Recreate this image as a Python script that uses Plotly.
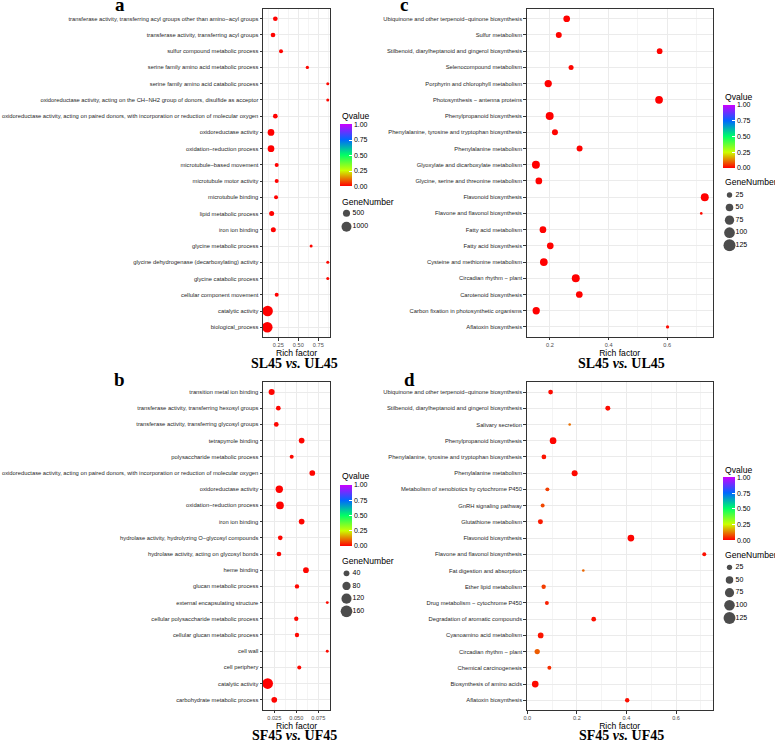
import plotly.graph_objects as go

W, H = 775, 741

# ---------------- data ----------------
# Panel a : SL45 vs. UL45 (GO terms)
a_terms = [
    "transferase activity, transferring acyl groups other than amino−acyl groups",
    "transferase activity, transferring acyl groups",
    "sulfur compound metabolic process",
    "serine family amino acid metabolic process",
    "serine family amino acid catabolic process",
    "oxidoreductase activity, acting on the CH−NH2 group of donors, disulfide as acceptor",
    "oxidoreductase activity, acting on paired donors, with incorporation or reduction of molecular oxygen",
    "oxidoreductase activity",
    "oxidation−reduction process",
    "microtubule−based movement",
    "microtubule motor activity",
    "microtubule binding",
    "lipid metabolic process",
    "iron ion binding",
    "glycine metabolic process",
    "glycine dehydrogenase (decarboxylating) activity",
    "glycine catabolic process",
    "cellular component movement",
    "catalytic activity",
    "biological_process",
]
a_rich = [0.213, 0.184, 0.284, 0.613, 0.868, 0.868, 0.213, 0.159, 0.159, 0.230,
          0.230, 0.222, 0.167, 0.188, 0.660, 0.868, 0.868, 0.230, 0.117, 0.113]
a_genes = [220, 220, 160, 110, 90, 90, 220, 450, 450, 160,
           160, 160, 250, 250, 90, 90, 90, 160, 1100, 1100]
a_qvalue = [0.002, 0.003, 0.004, 0.006, 0.008, 0.008, 0.002, 0.0, 0.0, 0.001,
            0.001, 0.001, 0.002, 0.002, 0.006, 0.008, 0.008, 0.001, 0.0, 0.0]

# Panel b : SF45 vs. UF45 (GO terms)
b_terms = [
    "transition metal ion binding",
    "transferase activity, transferring hexosyl groups",
    "transferase activity, transferring glycosyl groups",
    "tetrapyrrole binding",
    "polysaccharide metabolic process",
    "oxidoreductase activity, acting on paired donors, with incorporation or reduction of molecular oxygen",
    "oxidoreductase activity",
    "oxidation−reduction process",
    "iron ion binding",
    "hydrolase activity, hydrolyzing O−glycosyl compounds",
    "hydrolase activity, acting on glycosyl bonds",
    "heme binding",
    "glucan metabolic process",
    "external encapsulating structure",
    "cellular polysaccharide metabolic process",
    "cellular glucan metabolic process",
    "cell wall",
    "cell periphery",
    "catalytic activity",
    "carbohydrate metabolic process",
]
b_rich = [0.0220, 0.0296, 0.0273, 0.0561, 0.0448, 0.0682, 0.0307, 0.0315, 0.0561, 0.0318,
          0.0303, 0.0610, 0.0508, 0.0852, 0.0500, 0.0508, 0.0852, 0.0534, 0.0175, 0.0250]
b_genes = [42, 26, 26, 38, 19, 38, 63, 69, 38, 26,
           26, 38, 22, 10, 22, 22, 10, 19, 133, 38]
b_qvalue = [0.004, 0.006, 0.006, 0.005, 0.008, 0.005, 0.002, 0.002, 0.005, 0.006,
            0.006, 0.005, 0.007, 0.010, 0.007, 0.007, 0.010, 0.008, 0.0, 0.004]

# Panel c : SL45 vs. UL45 (KEGG pathways)
c_terms = [
    "Ubiquinone and other terpenoid−quinone biosynthesis",
    "Sulfur metabolism",
    "Stilbenoid, diarylheptanoid and gingerol biosynthesis",
    "Selenocompound metabolism",
    "Porphyrin and chlorophyll metabolism",
    "Photosynthesis − antenna proteins",
    "Phenylpropanoid biosynthesis",
    "Phenylalanine, tyrosine and tryptophan biosynthesis",
    "Phenylalanine metabolism",
    "Glyoxylate and dicarboxylate metabolism",
    "Glycine, serine and threonine metabolism",
    "Flavonoid biosynthesis",
    "Flavone and flavonol biosynthesis",
    "Fatty acid metabolism",
    "Fatty acid biosynthesis",
    "Cysteine and methionine metabolism",
    "Circadian rhythm − plant",
    "Carotenoid biosynthesis",
    "Carbon fixation in photosynthetic organisms",
    "Aflatoxin biosynthesis",
]
c_rich = [0.257, 0.230, 0.574, 0.272, 0.194, 0.572, 0.199, 0.217, 0.301, 0.152,
          0.162, 0.728, 0.716, 0.176, 0.201, 0.179, 0.288, 0.300, 0.153, 0.601]
c_genes = [39, 31, 28, 22, 46, 52, 55, 31, 31, 55,
           39, 55, 6, 39, 39, 52, 55, 39, 46, 9]
c_qvalue = [0.002, 0.004, 0.003, 0.006, 0.001, 0.0, 0.0, 0.004, 0.003, 0.0,
            0.002, 0.0, 0.010, 0.002, 0.002, 0.0, 0.0, 0.002, 0.001, 0.010]

# Panel d : SF45 vs. UF45 (KEGG pathways)
d_terms = [
    "Ubiquinone and other terpenoid−quinone biosynthesis",
    "Stilbenoid, diarylheptanoid and gingerol biosynthesis",
    "Salivary secretion",
    "Phenylpropanoid biosynthesis",
    "Phenylalanine, tyrosine and tryptophan biosynthesis",
    "Phenylalanine metabolism",
    "Metabolism of xenobiotics by cytochrome P450",
    "GnRH signaling pathway",
    "Glutathione metabolism",
    "Flavonoid biosynthesis",
    "Flavone and flavonol biosynthesis",
    "Fat digestion and absorption",
    "Ether lipid metabolism",
    "Drug metabolism − cytochrome P450",
    "Degradation of aromatic compounds",
    "Cyanoamino acid metabolism",
    "Circadian rhythm − plant",
    "Chemical carcinogenesis",
    "Biosynthesis of amino acids",
    "Aflatoxin biosynthesis",
]
d_rich = [0.094, 0.325, 0.171, 0.104, 0.067, 0.191, 0.081, 0.062, 0.053, 0.418,
          0.714, 0.226, 0.066, 0.079, 0.268, 0.054, 0.040, 0.089, 0.032, 0.403]
d_genes = [20, 22, 6, 40, 20, 32, 14, 14, 22, 40,
           14, 6, 17, 14, 20, 29, 25, 14, 40, 17]
d_qvalue = [0.010, 0.012, 0.110, 0.004, 0.020, 0.008, 0.060, 0.070, 0.025, 0.004,
            0.015, 0.100, 0.060, 0.030, 0.015, 0.020, 0.090, 0.045, 0.010, 0.015]

size_breaks_a = [500, 1000]
size_breaks_b = [40, 80, 120, 160]
size_breaks_c = [25, 50, 75, 100, 125]
size_breaks_d = [25, 50, 75, 100, 125]
q_ticks = [0.0, 0.25, 0.50, 0.75, 1.00]

# ---------------- styling / layout ----------------
RAINBOW = [[0.0, "#FF0000"], [0.25, "#CCFF00"], [0.5, "#00FF66"],
           [0.75, "#0066FF"], [1.0, "#CC00FF"]]
SANS = "Liberation Sans, Arial, sans-serif"
SERIF = "Liberation Serif, Times New Roman, serif"

panels = [
    dict(terms=a_terms, rich=a_rich, genes=a_genes, q=a_qvalue, breaks=size_breaks_a,
         box=(263, 330, 9, 337), xrange=[0.059, 0.896], dtick=0.25, fmt=".2f", minor=0.125,
         sizeref=20.0, cbar=(340, 124.5, 186.5), qtitle=(340, 116), gtitle=(340, 201.7),
         gbox=(340, 206.6, 233.4), letter=("a", 119.5, 4),
         comp="SL45", ref="UL45", comp_xy=(294, 363.3)),
    dict(terms=b_terms, rich=b_rich, genes=b_genes, q=b_qvalue, breaks=size_breaks_b,
         box=(263, 330, 382.3, 709.5), xrange=[0.0122, 0.0883], dtick=0.025, fmt=".3f", minor=0.0125,
         sizeref=2.34, cbar=(340, 485, 545.7), qtitle=(340, 476), gtitle=(340, 561),
         gbox=(340, 567, 617.6), letter=("b", 119.7, 380),
         comp="SF45", ref="UF45", comp_xy=(294.7, 735)),
    dict(terms=c_terms, rich=c_rich, genes=c_genes, q=c_qvalue, breaks=size_breaks_c,
         box=(526.7, 712.7, 9, 336.7), xrange=[0.1206, 0.755], dtick=0.2, fmt=".1f", minor=0.1,
         sizeref=1.737, cbar=(723, 105, 167.7), qtitle=(723, 96.5), gtitle=(723, 181.7),
         gbox=(723, 188.7, 251.6), letter=("c", 403.5, 4.5),
         comp="SL45", ref="UL45", comp_xy=(621.7, 363.3)),
    dict(terms=d_terms, rich=d_rich, genes=d_genes, q=d_qvalue, breaks=size_breaks_d,
         box=(526.7, 712.7, 382.3, 710), xrange=[-0.0024, 0.748], dtick=0.2, fmt=".1f", minor=0.1,
         sizeref=1.78, cbar=(723, 477.3, 540), qtitle=(723, 469.5), gtitle=(723, 555),
         gbox=(723, 561, 624.3), letter=("d", 409, 380),
         comp="SF45", ref="UF45", comp_xy=(621.5, 735)),
]

fig = go.Figure()
layout = dict(width=W, height=H, margin=dict(l=0, r=0, t=0, b=0),
              paper_bgcolor="white", plot_bgcolor="white", template="none",
              showlegend=False, font=dict(family=SANS, color="black"))
annotations = []


def fx(p):
    return p / W


def fy(p):
    return 1 - p / H


for i, p in enumerate(panels):
    k = i + 1
    sfx = "" if k == 1 else str(k)
    x0, x1, y0, y1 = p["box"]
    n = len(p["terms"])
    cax = "coloraxis" + sfx

    fig.add_trace(go.Scatter(
        x=p["rich"], y=p["terms"], mode="markers",
        xaxis="x" + sfx, yaxis="y" + sfx,
        marker=dict(size=p["genes"], sizemode="area", sizeref=p["sizeref"],
                    color=p["q"], coloraxis=cax, line=dict(width=0), opacity=1),
        hovertemplate="%{y}<br>Rich factor=%{x}<extra></extra>",
    ))

    layout["xaxis" + sfx] = dict(
        domain=[fx(x0), fx(x1)], anchor="y" + sfx, range=p["xrange"],
        tick0=0, dtick=p["dtick"], tickformat=p["fmt"],
        showgrid=True, gridcolor="#EBEBEB", gridwidth=0.7, zeroline=False,
        minor=dict(tick0=0, dtick=p["minor"], showgrid=True, gridcolor="#F4F4F4", gridwidth=0.5),
        showline=True, mirror=True, linecolor="#333333", linewidth=1,
        ticks="outside", ticklen=2.5, tickwidth=0.8, tickcolor="#333333",
        tickfont=dict(size=5.6, color="#4D4D4D", family=SANS),
        title=dict(text="Rich factor", font=dict(size=8.6, color="black", family=SANS), standoff=1),
    )
    layout["yaxis" + sfx] = dict(
        domain=[fy(y1), fy(y0)], anchor="x" + sfx, type="category",
        categoryorder="array", categoryarray=p["terms"], range=[n - 1 + 0.6, -0.6],
        showgrid=True, gridcolor="#EBEBEB", gridwidth=0.7, zeroline=False,
        showline=True, mirror=True, linecolor="#333333", linewidth=1,
        ticks="outside", ticklen=2.5, tickwidth=0.8, tickcolor="#333333",
        tickfont=dict(size=5.8, color="#262626", family=SANS),
    )

    cx, ctop, cbot = p["cbar"]
    layout[cax] = dict(
        cmin=0, cmax=1, colorscale=RAINBOW,
        colorbar=dict(
            x=fx(cx), xanchor="left", xpad=0, y=fy(ctop), yanchor="top", ypad=0,
            len=cbot - ctop, lenmode="pixels", thickness=12, thicknessmode="pixels",
            outlinewidth=0, tickvals=q_ticks, tickformat=".2f",
            ticks="inside", ticklen=2.5, tickcolor="white", tickwidth=0.8,
            tickfont=dict(size=7, color="black", family=SANS),
        ),
    )
    qx, qy = p["qtitle"]
    annotations.append(dict(text="Qvalue", x=fx(qx), y=fy(qy), xref="paper", yref="paper",
                            xanchor="left", yanchor="middle", showarrow=False,
                            font=dict(size=8.6, family=SANS, color="black")))

    # GeneNumber size legend drawn on its own small axes with the same size scale
    gx, gt, gb = p["gbox"]
    lk = 4 + k
    lx, ly = "x" + str(lk), "y" + str(lk)
    labels = [str(v) for v in p["breaks"]]
    fig.add_trace(go.Scatter(
        x=[6.5] * len(labels), y=labels, mode="markers", xaxis=lx, yaxis=ly,
        marker=dict(size=p["breaks"], sizemode="area", sizeref=p["sizeref"],
                    color="black", line=dict(width=0)),
        hoverinfo="skip",
    ))
    fig.add_trace(go.Scatter(
        x=[12.5] * len(labels), y=labels, mode="text", text=labels, xaxis=lx, yaxis=ly,
        textposition="middle right", textfont=dict(size=7, color="black", family=SANS),
        hoverinfo="skip",
    ))
    layout["xaxis" + str(lk)] = dict(domain=[fx(gx), fx(gx + 45)], anchor=ly, range=[0, 45],
                                     visible=False, fixedrange=True)
    layout["yaxis" + str(lk)] = dict(domain=[fy(gb), fy(gt)], anchor=lx, type="category",
                                     categoryorder="array", categoryarray=labels,
                                     range=[len(labels) - 0.5, -0.5], visible=False, fixedrange=True)
    tx, ty = p["gtitle"]
    annotations.append(dict(text="GeneNumber", x=fx(tx), y=fy(ty), xref="paper", yref="paper",
                            xanchor="left", yanchor="middle", showarrow=False,
                            font=dict(size=8.6, family=SANS, color="black")))

    # comparison caption and panel letter
    cx2, cy2 = p["comp_xy"]
    annotations.append(dict(text="<b>%s <i>vs.</i> %s</b>" % (p["comp"], p["ref"]),
                            x=fx(cx2), y=fy(cy2), xref="paper", yref="paper",
                            xanchor="center", yanchor="middle", showarrow=False,
                            font=dict(size=14, family=SERIF, color="black")))
    letter, lx_, ly_ = p["letter"]
    annotations.append(dict(text="<b>%s</b>" % letter, x=fx(lx_), y=fy(ly_), xref="paper", yref="paper",
                            xanchor="center", yanchor="middle", showarrow=False,
                            font=dict(size=19, family=SERIF, color="black")))

layout["annotations"] = annotations
fig.update_layout(**layout)
fig.write_html("out.html", config={"displayModeBar": False},
               post_script="document.body.style.margin='0px';document.body.style.overflow='hidden';")
